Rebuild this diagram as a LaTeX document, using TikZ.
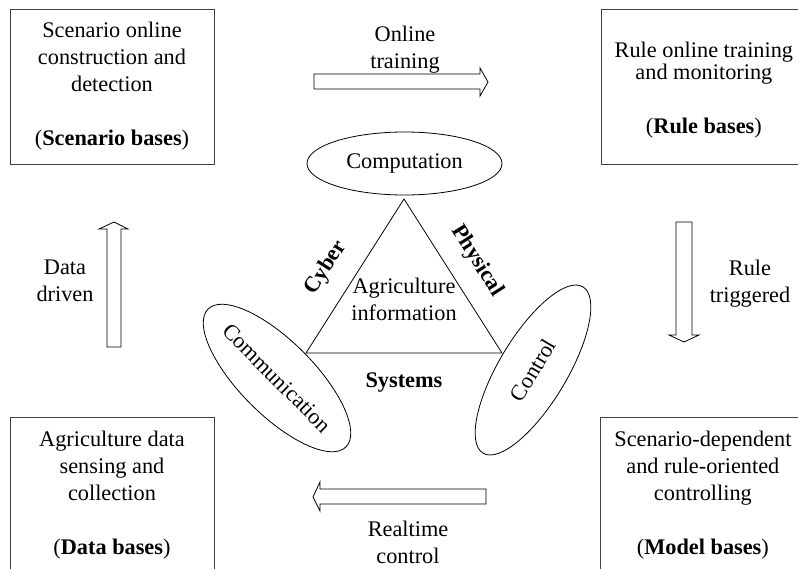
\documentclass[tikz,border=0pt]{standalone}
\usepackage{fontspec}
\setmainfont{Liberation Serif}
\usetikzlibrary{shapes.geometric}
\usetikzlibrary{positioning}
\tikzset{
    base/.style={
           rectangle,
           draw=black!75, line width=0.9pt,
           minimum width=204pt,
           minimum height=155pt,
           inner sep=0pt,
           align=center,
           },
    part/.style={
           ellipse,
           draw=black, line width=0.8pt,
           minimum width=195pt,
           minimum height=64pt,
           inner xsep=-10pt, inner ysep=0pt,
           },
    blockarrow/.style={
           draw=black, line width=0.8pt,
           fill=white,
           },
    note/.style={align=center, inner sep=0pt},
}

\begin{document}
\begin{tikzpicture}[x=1pt,y=-1pt,font=\fontsize{22.3}{27}\selectfont]

 % page frame, the right and bottom boxes run past it
 \clip (0,0) rectangle (798,568);

 % the four bases, one in each corner
 \node[base] (Scenario) at (112,86.5)
 {Scenario online\\construction and\\detection\\[27pt](\textbf{Scenario bases})};

 % rule keeps the first line a bit lower
 \node[base,
  right=387pt of Scenario] (Rule)
 {\rule{0pt}{22.3pt}Rule online training\\[-4.5pt]and monitoring\\[27pt](\textbf{Rule bases})};

 \node[base,
  below=253pt of Scenario] (Data)
 {Agriculture data\\sensing and\\collection\\[27pt](\textbf{Data bases})};

 \node[base,
  right=386pt of Data] (Model)
 {Scenario-dependent\\and rule-oriented\\controlling\\[27pt](\textbf{Model bases})};

 % the three parts round the triangle
 \node[part, minimum height=63pt] (Computation) at (404.5,163.5) {Computation};
 \node[part, rotate=-45, minimum height=74pt] (Communication) at (277,378) {Communication};
 \node[part, rotate=59, minimum width=194pt, minimum height=68pt] (Control) at (533,370) {Control};

 % triangle in the middle
 \coordinate (top) at (404,199);
 \coordinate (left) at (306,353);
 \coordinate (right) at (502,353);
 \draw[line width=0.8pt] (top) -- (left) -- (right) -- cycle;

 \node[note] (Info) at (404,299) {Agriculture\\information};
 \node[note, rotate=57.5] (Cyber) at (326,268) {\textbf{Cyber}};
 \node[note, rotate=-57.5] (Physical) at (477,261) {\textbf{Physical}};
 \node[note] (Systems) at (404,383) {\textbf{Systems}};

 % the big arrows and their labels
 \draw[blockarrow] (314,74) -- (480,74) -- (480,68) -- (488,82) -- (480,96) -- (480,89) -- (314,89) -- cycle;
 \draw[blockarrow] (676,222) -- (692,222) -- (692,335) -- (699,335) -- (684,342) -- (669,335) -- (676,335) -- cycle;
 \draw[blockarrow] (486,489) -- (320,489) -- (320,482) -- (313,497) -- (320,511) -- (320,504) -- (486,504) -- cycle;
 \draw[blockarrow] (107,347) -- (107,229) -- (99,229) -- (114,222) -- (128,229) -- (121,229) -- (121,347) -- cycle;

 \node[note] (Training) at (405,49.5) {Online\\training};
 \node[note] (Triggered) at (750,283.5) {Rule\\triggered};
 \node[note] (Realtime) at (408,542.5) {Realtime\\control};
 \node[note] (Driven) at (65,281) {Data\\driven};

\end{tikzpicture}
\end{document}
